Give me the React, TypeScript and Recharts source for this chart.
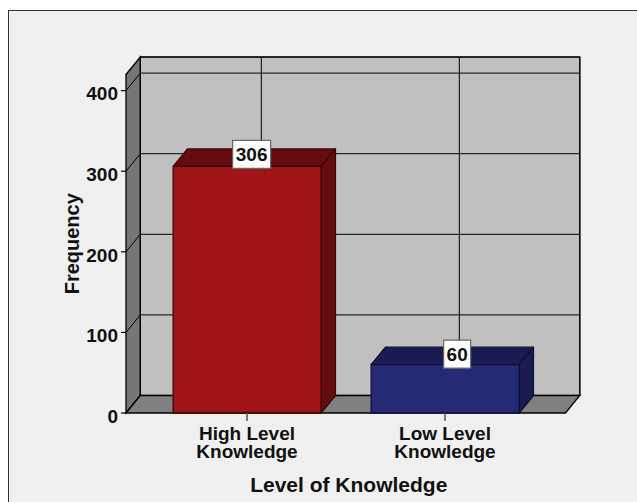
import { BarChart, Bar, XAxis, YAxis, CartesianGrid, LabelList, ReferenceArea } from 'recharts';

const categories = ['High Level\nKnowledge', 'Low Level\nKnowledge'];
const frequencies = [306, 60];
const yTicks = [0, 100, 200, 300, 400];
const yMax = 420;

const frontColors = ['#a01517', '#262a75'];
const shadeColors = ['#660c0f', '#1a1b50'];
const edgeColors = ['#3a0507', '#0e0e35'];

const data = categories.map((category, i) => ({ category, frequency: frequencies[i] }));

// depth of the fake 3D box
const DX = 14.3;
const DY = 17.5;
const PAD_LEFT = 22;
const PAD_RIGHT = 21.5;
const FONT = '"Liberation Sans", Arial, sans-serif';
const INK = '#111111';

const Walls = ({ x: innerX, y, width: innerWidth, height }: any) => {
  // the reference area stops at the axis padding, the box does not
  const x = innerX - PAD_LEFT;
  const width = innerWidth + PAD_LEFT + PAD_RIGHT;
  const bottom = y + height;
  const right = x + width;
  return (
    <g stroke="#000" strokeWidth={1.3} strokeLinejoin="miter">
      <rect x={x + DX} y={y - DY} width={width} height={height} fill="#c0c0c0" />
      <polygon points={`${x},${y} ${x + DX},${y - DY} ${x + DX},${bottom - DY} ${x},${bottom}`} fill="#767676" />
      <polygon
        points={`${x},${bottom} ${x + DX},${bottom - DY} ${right + DX},${bottom - DY} ${right},${bottom}`}
        fill="#808080"
      />
    </g>
  );
};

// Gridlines sit on the back wall and wrap round the left side wall
const HorizontalLine = ({ x1, x2, y1 }: any) => (
  <polyline
    points={`${x1},${y1} ${x1 + DX},${y1 - DY} ${x2 + DX},${y1 - DY}`}
    fill="none"
    stroke="#000"
    strokeWidth={1}
  />
);

const VerticalLine = ({ x1, y1, y2 }: any) => (
  <line x1={x1 + DX} x2={x1 + DX} y1={y1 - DY} y2={y2 - DY} stroke="#000" strokeWidth={1} />
);

const Box3D = ({ x, y, width, height, index }: any) => {
  const right = x + width;
  const bottom = y + height;
  const edge = edgeColors[index];
  return (
    <g stroke={edge} strokeWidth={1.3} strokeLinejoin="round">
      <polygon
        points={`${x},${y} ${x + DX},${y - DY} ${right + DX},${y - DY} ${right},${y}`}
        fill={shadeColors[index]}
      />
      <polygon
        points={`${right},${y} ${right + DX},${y - DY} ${right + DX},${bottom - DY} ${right},${bottom}`}
        fill={shadeColors[index]}
      />
      <rect x={x} y={y} width={width} height={height} fill={frontColors[index]} />
    </g>
  );
};

const ValueBadge = ({ x, y, width, value, index }: any) => {
  const w = String(value).length > 2 ? 38 : 27;
  const cx = x + width / 2 + (index === 0 ? 4.5 : 12);
  const cy = y - (index === 0 ? 12 : 10.5);
  return (
    <g>
      <rect x={cx - w / 2} y={cy - 14} width={w} height={28} fill="#fff" stroke="#666" strokeWidth={1.2} />
      <text
        x={cx}
        y={cy + 7}
        textAnchor="middle"
        fontFamily={FONT}
        fontWeight="bold"
        fontSize={19}
        fill={INK}
      >
        {value}
      </text>
    </g>
  );
};

const CategoryTick = ({ x, y, payload }: any) => {
  const lines = String(payload.value).split('\n');
  return (
    <g>
      <line x1={x} x2={x} y1={y} y2={y + 8} stroke="#555" strokeWidth={1.5} />
      <text
        x={x}
        y={y + 27}
        textAnchor="middle"
        fontFamily={FONT}
        fontWeight="bold"
        fontSize={19}
        fill={INK}
      >
        {lines.map((line, i) => (
          <tspan key={line} x={x} dy={i === 0 ? 0 : 18}>
            {line}
          </tspan>
        ))}
      </text>
    </g>
  );
};

export default function App() {
  return (
    <div style={{ position: 'absolute', left: 0, top: 0, width: 637, height: 502, overflow: 'hidden', background: '#fff' }}>
      <div
        style={{
          position: 'absolute',
          left: 8,
          top: 10,
          right: 0,
          bottom: 0,
          background: '#f0f0f0',
          borderLeft: '1px solid #333',
          borderTop: '1px solid #333',
        }}
      />
      <div style={{ position: 'absolute', left: 0, top: 0 }}>
        <BarChart
          width={637}
          height={502}
          data={data}
          barCategoryGap="12.7%"
          margin={{ top: 74.5, right: 71.5, bottom: 0, left: 0 }}
        >
          <XAxis
            dataKey="category"
            height={89}
            interval={0}
            padding={{ left: PAD_LEFT, right: PAD_RIGHT }}
            axisLine={false}
            tickLine={false}
            tickSize={0}
            tickMargin={0}
            tick={<CategoryTick />}
            label={{
              value: 'Level of Knowledge',
              position: 'insideBottom',
              offset: 10,
              dx: 3,
              fontFamily: FONT,
              fontWeight: 'bold',
              fontSize: 21,
              fill: INK,
            }}
          />
          <YAxis
            width={126}
            domain={[0, yMax]}
            ticks={yTicks}
            interval={0}
            axisLine={false}
            tickSize={5}
            tickMargin={3}
            tickLine={{ stroke: '#000', strokeWidth: 1.2 }}
            tick={{ fontFamily: FONT, fontWeight: 'bold', fontSize: 19, fill: INK, dy: 3 }}
            label={{
              value: 'Frequency',
              angle: -90,
              position: 'insideLeft',
              offset: 72,
              style: { textAnchor: 'middle' },
              fontFamily: FONT,
              fontWeight: 'bold',
              fontSize: 20,
              fill: INK,
            }}
          />
          <ReferenceArea y1={0} y2={yMax} shape={<Walls />} zIndex={-200} />
          <CartesianGrid
            horizontal={(props: any) => <HorizontalLine key={props.key} {...props} />}
            vertical={(props: any) => <VerticalLine key={props.key} {...props} />}
          />
          <Bar dataKey="frequency" isAnimationActive={false} shape={<Box3D />}>
            <LabelList dataKey="frequency" content={<ValueBadge />} />
          </Bar>
        </BarChart>
      </div>
    </div>
  );
}
